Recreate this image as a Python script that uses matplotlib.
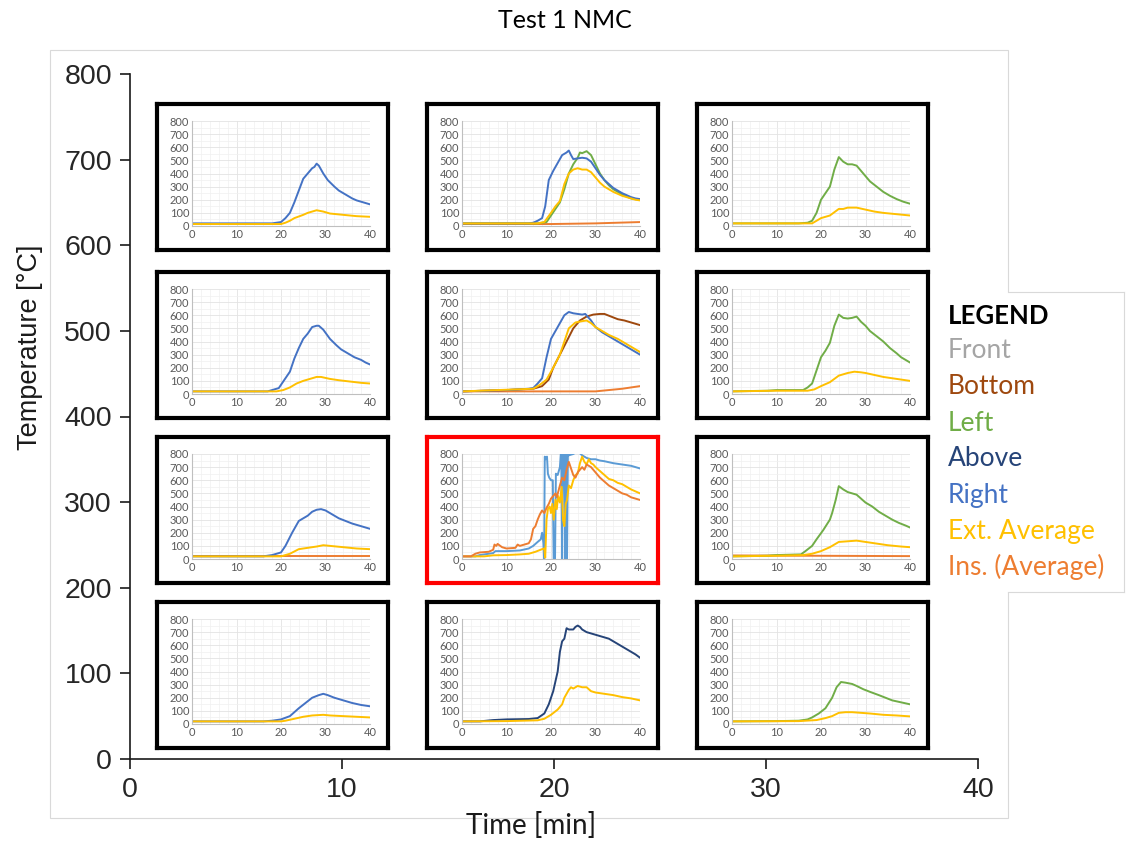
import matplotlib
matplotlib.use("Agg")
import matplotlib.pyplot as plt
from matplotlib.patches import Rectangle
from matplotlib.lines import Line2D
from matplotlib.ticker import MultipleLocator

W, H = 1126, 843

C_FRONT = "#A5A5A5"
C_BOTTOM = "#9E480E"
C_LEFT = "#70AD47"
C_ABOVE = "#264478"
C_RIGHT = "#4472C4"
C_EXT = "#FFC000"
C_INS = "#ED7D31"
C_CENTER_BLUE = "#5B9BD5"

LEGEND_LABELS = ["Front", "Bottom", "Left", "Above", "Right", "Ext. Average", "Ins. (Average)"]
LEGEND_COLORS = [C_FRONT, C_BOTTOM, C_LEFT, C_ABOVE, C_RIGHT, C_EXT, C_INS]

# ---- data: (time [min], temperature [C]) ----
r1c1_right_t = [0, 18, 20, 21, 22, 23, 24, 25, 26, 27, 27.5, 28, 28.5, 29.5, 30.5, 32, 33, 34, 35, 36, 37, 38.5, 40]
r1c1_right_v = [20, 20, 30, 60, 100, 180, 270, 360, 400, 440, 450, 475, 460, 400, 350, 300, 270, 250, 230, 210, 195, 180, 165]
r1c1_ext_t = [0, 20, 21, 22, 23, 25, 26, 27.5, 28, 29.5, 31, 34, 37, 40]
r1c1_ext_v = [15, 15, 25, 40, 60, 85, 100, 115, 120, 110, 95, 85, 75, 70]

r1c2_right_t = [0, 15, 16, 17, 18, 18.7, 19.5, 20.5, 21.5, 22.5, 23.5, 24, 24.5, 25, 26, 27, 28, 29, 30, 31, 32, 33, 34, 35, 36, 37, 38, 39, 40]
r1c2_right_v = [20, 20, 25, 40, 60, 150, 350, 420, 480, 540, 560, 575, 540, 510, 515, 520, 515, 490, 440, 390, 350, 320, 290, 270, 250, 235, 220, 210, 205]
r1c2_left_t = [0, 17, 19, 20, 21, 22, 23, 24, 25, 26, 26.5, 27, 28, 29, 30, 31, 32, 33, 34, 35, 36, 37, 38, 39, 40]
r1c2_left_v = [20, 20, 30, 80, 130, 180, 280, 400, 470, 520, 560, 555, 570, 540, 470, 400, 350, 310, 280, 260, 240, 225, 210, 205, 200]
r1c2_ext_t = [0, 17, 18.5, 20, 21, 22, 23, 24, 25, 26, 27, 28, 29, 30, 31, 32, 33, 34, 35, 36, 37, 38, 39, 40]
r1c2_ext_v = [20, 20, 30, 100, 150, 190, 320, 400, 430, 440, 430, 430, 410, 370, 330, 300, 280, 260, 245, 230, 220, 210, 200, 195]
r1c2_ins_t = [0, 20, 30, 40]
r1c2_ins_v = [15, 15, 20, 30]

r1c3_left_t = [0, 15, 17, 18, 19, 20, 21, 22, 23, 24, 25, 26, 27, 28, 29, 30, 31, 32.5, 34, 35.5, 37, 38.5, 40]
r1c3_left_v = [20, 20, 25, 40, 100, 200, 250, 300, 430, 525, 490, 470, 470, 460, 420, 380, 340, 300, 260, 230, 205, 185, 170]
r1c3_ext_t = [0, 18, 18.5, 20, 22, 24, 25, 26, 28, 30, 32, 34, 37, 40]
r1c3_ext_v = [20, 20, 30, 60, 80, 130, 130, 140, 140, 125, 110, 100, 90, 80]

r2c1_right_t = [0, 17, 18, 19.5, 21, 22, 23, 24, 25, 26, 27, 28, 28.5, 29.5, 31, 32.5, 33.5, 35, 36.5, 38, 39, 40]
r2c1_right_v = [20, 20, 30, 45, 120, 170, 270, 350, 420, 460, 510, 520, 520, 490, 420, 370, 340, 310, 280, 260, 240, 225]
r2c1_ext_t = [0, 19, 20.5, 22, 23.5, 25, 26.5, 28, 29, 31, 33, 35.5, 38, 40]
r2c1_ext_v = [20, 20, 30, 50, 80, 100, 115, 130, 130, 115, 105, 95, 85, 80]

r2c2_right_t = [0, 10, 15, 16, 17, 18, 19, 20, 21, 22, 23, 24, 25, 26, 27, 27.7, 29, 30, 31.5, 33, 35, 36.5, 38, 39, 40]
r2c2_right_v = [20, 30, 40, 45, 80, 120, 280, 420, 480, 540, 600, 625, 615, 610, 605, 610, 560, 510, 470, 440, 400, 370, 340, 320, 300]
r2c2_bottom_t = [0, 10, 16, 18, 19.5, 20.5, 22, 23.5, 25, 26.5, 28, 29.5, 31, 32, 33.5, 35, 36.5, 38, 40]
r2c2_bottom_v = [20, 30, 40, 60, 110, 200, 300, 400, 500, 560, 590, 605, 610, 610, 590, 570, 560, 545, 525]
r2c2_ext_t = [0, 8, 12, 16, 17.5, 19, 20.5, 22, 23, 24, 25.5, 27, 28, 29, 30, 31.5, 33, 35, 36.5, 38, 39, 40]
r2c2_ext_v = [20, 30, 35, 40, 70, 110, 200, 300, 400, 500, 545, 555, 560, 540, 510, 480, 450, 420, 390, 360, 340, 320]
r2c2_ins_t = [0, 20, 30, 33, 36, 40]
r2c2_ins_v = [20, 20, 20, 30, 40, 60]

r2c3_left_t = [0, 8, 10, 16, 17, 18, 19, 20, 21, 22, 23, 24, 25, 26, 27, 28, 29, 30, 31, 32.5, 34, 35.5, 37, 38, 39, 40]
r2c3_left_v = [20, 25, 30, 30, 50, 80, 180, 280, 330, 390, 520, 605, 580, 575, 580, 590, 550, 520, 480, 440, 400, 350, 310, 280, 260, 240]
r2c3_ext_t = [0, 10, 17, 18.5, 20, 22, 24, 25, 26, 27.5, 29, 30, 32, 34, 36, 38, 40]
r2c3_ext_v = [20, 25, 25, 35, 60, 90, 140, 150, 160, 170, 165, 160, 145, 130, 120, 110, 100]

r3c1_right_t = [0, 16, 18, 20, 21, 22.5, 24, 25, 26, 27, 28, 29, 30, 31.5, 33, 34.5, 36, 37.5, 39, 40]
r3c1_right_v = [20, 20, 30, 50, 100, 200, 290, 310, 330, 360, 375, 380, 370, 340, 310, 290, 270, 255, 240, 230]
r3c1_ext_t = [0, 20, 22, 24, 26, 28, 29.5, 31, 34, 37, 40]
r3c1_ext_v = [20, 20, 40, 75, 85, 95, 105, 100, 90, 80, 75]
r3c1_ins_t = [0, 40]
r3c1_ins_v = [22, 22]

r3c2_right_t = [0, 3, 4, 6, 7, 7.5, 10, 13, 15, 16, 17, 17.7, 18.0, 18.3, 18.45, 18.6, 18.8, 19.1, 19.3, 19.6, 20.0, 20.4, 20.6, 20.9, 21.1, 21.5,
                22.0, 22.3, 22.5, 22.7, 23.0, 23.2, 23.4, 23.6, 23.8, 24, 25, 26, 27, 28, 29, 30, 31, 32, 34, 36, 38, 39, 40]
r3c2_right_v = [20, 20, 30, 40, 45, 60, 60, 65, 80, 100, 130, 150, 200, 120, -10, 780, 760, 780, 650, 620, 600, 600, -10, -10, 650, 640,
                700, 850, -10, 850, 860, -10, 850, -10, 820, 790, 800, 820, 790, 770, 760, 760, 750, 745, 730, 720, 710, 700, 690]
r3c2_ext_t = [0, 5, 7, 10, 13, 15, 16.5, 18, 18.5, 18.7, 19.0, 19.3, 19.7, 20.0, 20.3, 20.6, 21.0, 21.3, 21.6, 22.0, 22.4, 22.7, 23.0, 23.3,
              23.6, 24.0, 24.5, 25.0, 25.5, 26.0, 26.5, 27.0, 27.5, 28.0, 28.5, 29.0, 29.5, 30, 31, 32, 33, 34, 35, 36, 37, 38, 39, 40]
r3c2_ext_v = [20, 20, 28, 30, 35, 40, 55, 75, 80, 10, 300, 380, 400, 350, 420, 300, 450, 380, 480, 430, 550, 300, 250, 420,
              450, 560, 540, 600, 640, 650, 730, 780, 740, 720, 760, 730, 720, 700, 670, 640, 610, 600, 580, 570, 550, 530, 515, 500]
r3c2_ins_t = [0, 2, 3, 4, 6, 7, 7.3, 7.7, 8, 9, 10, 12, 12.5, 13, 14, 15, 15.5, 16, 16.5, 17, 17.5, 18, 18.5, 19, 19.5, 20, 20.5, 21, 21.3,
              22, 22.5, 23, 23.5, 24, 24.5, 25, 25.5, 26, 27, 27.5, 28, 29, 30, 31, 32, 33, 34, 35, 36, 37, 38, 39, 40]
r3c2_ins_v = [20, 20, 40, 50, 55, 70, 110, 100, 115, 90, 80, 85, 110, 100, 110, 120, 150, 230, 250, 300, 340, 370, 350, 390, 420, 460, 480, 500, 470,
              560, 620, 600, 680, 740, 690, 640, 620, 660, 700, 680, 720, 700, 660, 620, 590, 560, 540, 520, 500, 490, 470, 460, 450]

r3c3_left_t = [0, 8, 10, 15.5, 16.5, 18, 19, 20.5, 22, 22.5, 23.3, 24, 25, 26, 27, 28, 29, 30, 31.5, 33, 34.5, 36, 37.5, 39, 40]
r3c3_left_v = [20, 25, 30, 35, 60, 100, 150, 220, 300, 350, 450, 555, 530, 510, 500, 490, 460, 430, 400, 360, 330, 300, 275, 255, 240]
r3c3_ext_t = [0, 10, 16, 18, 20, 22, 24, 26, 28, 30, 33, 35, 38, 40]
r3c3_ext_v = [20, 25, 30, 40, 60, 90, 130, 135, 140, 130, 115, 105, 95, 90]
r3c3_ins_t = [0, 40]
r3c3_ins_v = [27, 22]

r4c1_right_t = [0, 16, 18, 20, 22, 24, 25.5, 27, 28.5, 29.5, 30.5, 32, 34, 36, 38, 40]
r4c1_right_v = [20, 20, 25, 35, 60, 120, 160, 200, 220, 230, 220, 200, 180, 160, 145, 135]
r4c1_ext_t = [0, 20, 21, 23, 25, 27, 29.5, 31, 34, 37, 40]
r4c1_ext_v = [20, 20, 25, 40, 55, 65, 70, 65, 60, 55, 50]

r4c2_above_t = [0, 4, 7, 10, 15, 17, 18.5, 19.5, 20.5, 21.5, 22, 22.5, 23, 23.5, 24, 25, 25.5, 26, 26.5, 27, 28, 29, 30, 31, 32, 33, 34, 35, 36, 37.5, 39, 40]
r4c2_above_v = [20, 20, 30, 35, 38, 45, 80, 150, 250, 400, 550, 630, 650, 730, 720, 720, 740, 750, 740, 720, 700, 690, 680, 670, 660, 650, 630, 610, 590, 560, 530, 505]
r4c2_ext_t = [0, 10, 17, 18.5, 20, 21.5, 22.5, 23, 24, 24.5, 25, 26, 27, 28, 29, 30, 32, 34, 36, 38, 40]
r4c2_ext_v = [20, 22, 28, 40, 70, 110, 150, 200, 260, 280, 270, 290, 280, 280, 250, 240, 230, 220, 205, 195, 180]

r4c3_left_t = [0, 10, 15, 17, 18, 19.5, 21, 22.5, 23.5, 24.5, 25.5, 27, 28, 29.5, 31, 33, 34.5, 36, 38, 40]
r4c3_left_v = [20, 22, 25, 35, 50, 80, 120, 200, 280, 320, 315, 305, 290, 265, 245, 220, 200, 180, 165, 150]
r4c3_ext_t = [0, 15, 19, 21, 22.5, 24, 25.5, 27, 29, 31, 34, 37, 40]
r4c3_ext_v = [20, 22, 30, 45, 60, 85, 90, 90, 85, 80, 70, 65, 58]

# grid of panels: list of (t, v, colour) per cell
PANELS = [
    [[(r1c1_right_t, r1c1_right_v, C_RIGHT), (r1c1_ext_t, r1c1_ext_v, C_EXT)],
     [(r1c2_ins_t, r1c2_ins_v, C_INS), (r1c2_left_t, r1c2_left_v, C_LEFT),
      (r1c2_right_t, r1c2_right_v, C_RIGHT), (r1c2_ext_t, r1c2_ext_v, C_EXT)],
     [(r1c3_left_t, r1c3_left_v, C_LEFT), (r1c3_ext_t, r1c3_ext_v, C_EXT)]],
    [[(r2c1_right_t, r2c1_right_v, C_RIGHT), (r2c1_ext_t, r2c1_ext_v, C_EXT)],
     [(r2c2_ins_t, r2c2_ins_v, C_INS), (r2c2_bottom_t, r2c2_bottom_v, C_BOTTOM),
      (r2c2_right_t, r2c2_right_v, C_RIGHT), (r2c2_ext_t, r2c2_ext_v, C_EXT)],
     [(r2c3_left_t, r2c3_left_v, C_LEFT), (r2c3_ext_t, r2c3_ext_v, C_EXT)]],
    [[(r3c1_ins_t, r3c1_ins_v, C_INS), (r3c1_right_t, r3c1_right_v, C_RIGHT), (r3c1_ext_t, r3c1_ext_v, C_EXT)],
     [(r3c2_right_t, r3c2_right_v, C_CENTER_BLUE), (r3c2_ext_t, r3c2_ext_v, C_EXT), (r3c2_ins_t, r3c2_ins_v, C_INS)],
     [(r3c3_ins_t, r3c3_ins_v, C_INS), (r3c3_left_t, r3c3_left_v, C_LEFT), (r3c3_ext_t, r3c3_ext_v, C_EXT)]],
    [[(r4c1_right_t, r4c1_right_v, C_RIGHT), (r4c1_ext_t, r4c1_ext_v, C_EXT)],
     [(r4c2_above_t, r4c2_above_v, C_ABOVE), (r4c2_ext_t, r4c2_ext_v, C_EXT)],
     [(r4c3_left_t, r4c3_left_v, C_LEFT), (r4c3_ext_t, r4c3_ext_v, C_EXT)]],
]

COL_X = [157, 427, 697]
ROW_Y = [104, 272, 437, 602]
FRAME_W, FRAME_H = 231, 146


def px_box(x0, y0, x1, y1):
    """pixel box (top-left origin) -> figure fraction [l, b, w, h]"""
    return [x0 / W, 1 - y1 / H, (x1 - x0) / W, (y1 - y0) / H]


def main() -> None:
    fig = plt.figure(figsize=(W / 100, H / 100), dpi=100)
    fig.patch.set_facecolor("white")

    # pasted-image outline
    border = Rectangle((50 / W, 1 - 818 / H), 958 / W, 768 / H, transform=fig.transFigure,
                       fill=False, edgecolor="#D9D9D9", lw=0.8, zorder=0.2)
    fig.patches.append(border)

    # main axes
    ax = fig.add_axes(px_box(130, 74, 978, 759), zorder=1)
    ax.set_facecolor("none")
    ax.set_xlim(0, 40)
    ax.set_ylim(0, 800)
    ax.set_xticks(range(0, 41, 10))
    ax.set_yticks(range(0, 801, 100))
    for side in ("top", "right"):
        ax.spines[side].set_visible(False)
    for side in ("left", "bottom"):
        ax.spines[side].set_color("#1a1a1a")
        ax.spines[side].set_linewidth(1.2)
    ax.tick_params(direction="out", length=7, width=1.2, color="#1a1a1a",
                   labelsize=20.5, labelcolor="#262626", pad=6)
    for lab in ax.get_xticklabels() + ax.get_yticklabels():
        lab.set_family("Liberation Sans")

    fig.text(30 / W, 1 - 347 / H, "Temperature [°C]", rotation=90, ha="center", va="center",
             fontsize=19.5, family="Liberation Sans", color="#1a1a1a")
    fig.text(531 / W, 1 - 825 / H, "Time [min]", ha="center", va="center",
             fontsize=20, family="Lato", color="#1a1a1a")
    fig.text(565 / W, 1 - 20 / H, "Test 1 NMC", ha="center", va="center",
             fontsize=18, family="Lato", color="black")

    # inset panels
    for r, y0 in enumerate(ROW_Y):
        for c, x0 in enumerate(COL_X):
            edge = "#FF0000" if (r, c) == (2, 1) else "black"
            fax = fig.add_axes(px_box(x0, y0, x0 + FRAME_W, y0 + FRAME_H), zorder=2)
            fax.set_xticks([])
            fax.set_yticks([])
            fax.set_facecolor("white")
            for s in fax.spines.values():
                s.set_color(edge)
                s.set_linewidth(3)

            iax = fig.add_axes(px_box(x0 + 35, y0 + 17, x0 + 213, y0 + 122), zorder=3)
            iax.set_xlim(0, 40)
            iax.set_ylim(0, 800)
            iax.xaxis.set_major_locator(MultipleLocator(10))
            iax.yaxis.set_major_locator(MultipleLocator(100))
            iax.xaxis.set_minor_locator(MultipleLocator(2))
            iax.yaxis.set_minor_locator(MultipleLocator(50))
            iax.grid(which="major", color="#E3E3E3", lw=0.6)
            iax.grid(which="minor", color="#F0F0F0", lw=0.5)
            iax.set_axisbelow(True)
            for side in ("top", "right"):
                iax.spines[side].set_visible(False)
            for side in ("left", "bottom"):
                iax.spines[side].set_color("#BFBFBF")
                iax.spines[side].set_linewidth(0.8)
            iax.tick_params(which="both", length=0, labelsize=8, labelcolor="#595959", pad=2)
            for lab in iax.get_xticklabels() + iax.get_yticklabels():
                lab.set_family("Lato")

            for t, v, col in PANELS[r][c]:
                iax.plot(t, v, color=col, lw=1.4, solid_joinstyle="round")

    # legend block
    lbox = Rectangle((940 / W, 1 - 592 / H), 184 / W, 300 / H, transform=fig.transFigure,
                     facecolor="white", edgecolor="none", zorder=4)
    fig.patches.append(lbox)
    for (xa, ya, xb, yb) in [(1008, 292, 1124, 292), (1124, 292, 1124, 592), (1008, 592, 1124, 592)]:
        fig.lines.append(Line2D([xa / W, xb / W], [1 - ya / H, 1 - yb / H], transform=fig.transFigure,
                                color="#D9D9D9", lw=0.8, zorder=4.5))

    fig.text(948 / W, 1 - 316 / H, "LEGEND", fontsize=18.5, fontweight="bold", family="Lato",
             color="black", va="center", ha="left", zorder=5)
    for i, (lab, col) in enumerate(zip(LEGEND_LABELS, LEGEND_COLORS)):
        fig.text(948 / W, 1 - (351 + 36 * i) / H, lab, fontsize=19, family="Lato",
                 color=col, va="center", ha="left", zorder=5)

    fig.savefig("out.png", dpi=100)
    plt.close(fig)


if __name__ == "__main__":
    main()
